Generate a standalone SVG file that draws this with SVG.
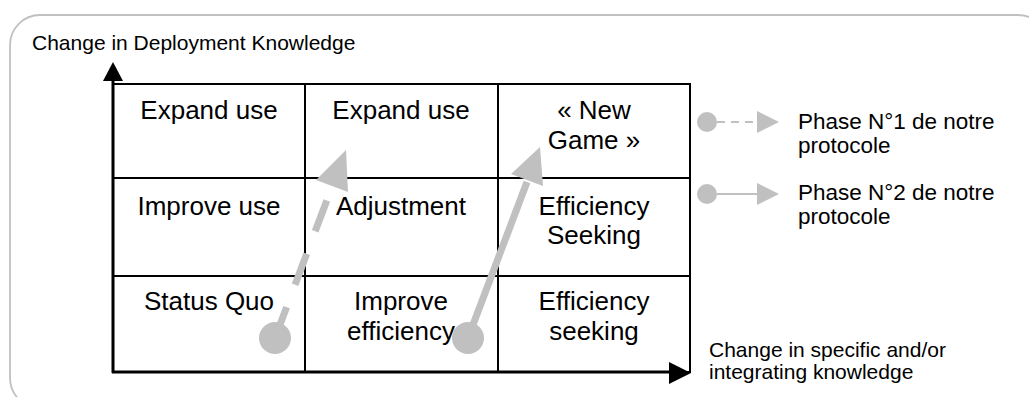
<svg xmlns="http://www.w3.org/2000/svg" width="1029" height="397" viewBox="0 0 1029 397">
<style>
text{font-family:"Liberation Sans",Arial,sans-serif;fill:#000}
.cell{font-size:26px;text-anchor:middle}
.lab{font-size:21px}
.leg{font-size:22.5px}
.grid{stroke:#000;stroke-width:2;fill:none}
.axis{stroke:#000;stroke-width:3;fill:none}
.g{fill:#c0c0c0}
</style>
<rect x="10" y="15" width="1038" height="393" rx="30" ry="30" fill="#fff" stroke="#c0c0c0" stroke-width="1.8"/>
<g id="grid">
<rect class="grid" x="113" y="84" width="577" height="288"/>
<line class="grid" x1="305" y1="84" x2="305" y2="372"/>
<line class="grid" x1="498" y1="84" x2="498" y2="372"/>
<line class="grid" x1="113" y1="178" x2="690" y2="178"/>
<line class="grid" x1="113" y1="276" x2="690" y2="276"/>
</g>
<g id="axes">
<line class="axis" x1="113" y1="373" x2="113" y2="78"/>
<polygon points="113,62 103,81 123,81" fill="#000"/>
<line class="axis" x1="112" y1="372" x2="672" y2="372"/>
<polygon points="691,373 669,362 669,384" fill="#000"/>
</g>
<g id="cells">
<text class="cell" x="209" y="119">Expand use</text>
<text class="cell" x="401" y="119">Expand use</text>
<text class="cell" x="594" y="119">« New</text>
<text class="cell" x="594" y="149">Game »</text>
<text class="cell" x="209" y="215">Improve use</text>
<text class="cell" x="401" y="215">Adjustment</text>
<text class="cell" x="594" y="215">Efficiency</text>
<text class="cell" x="594" y="244">Seeking</text>
<text class="cell" x="209" y="310">Status Quo</text>
<text class="cell" x="401" y="310">Improve</text>
<text class="cell" x="401" y="340">efficiency</text>
<text class="cell" x="594" y="310">Efficiency</text>
<text class="cell" x="594" y="340">seeking</text>
</g>
<g id="labels">
<text class="lab" x="32" y="50">Change in Deployment Knowledge</text>
<text class="lab" x="709" y="357">Change in specific and/or</text>
<text class="lab" x="709" y="379">integrating knowledge</text>
</g>
<g id="connectors">
<line x1="275" y1="338" x2="333" y2="184" stroke="#c0c0c0" stroke-width="7" stroke-dasharray="33 24"/>
<circle class="g" cx="275" cy="338" r="16"/>
<polygon class="g" points="346,150 316,180 348,192"/>
<line x1="468" y1="338" x2="527" y2="182" stroke="#c0c0c0" stroke-width="7"/>
<circle class="g" cx="468" cy="338" r="16"/>
<polygon class="g" points="540,147 511,174 543,186"/>
</g>
<g id="legend1">
<circle class="g" cx="707" cy="122" r="10"/>
<line x1="717" y1="122" x2="758" y2="122" stroke="#c0c0c0" stroke-width="2" stroke-dasharray="8 6"/>
<polygon class="g" points="757,111 757,133 779,122"/>
<text class="leg" x="798" y="129">Phase N°1 de notre</text>
<text class="leg" x="798" y="153">protocole</text>
</g>
<g id="legend2">
<circle class="g" cx="707" cy="194" r="10"/>
<line x1="717" y1="194" x2="758" y2="194" stroke="#c0c0c0" stroke-width="2"/>
<polygon class="g" points="757,183 757,205 779,194"/>
<text class="leg" x="798" y="200">Phase N°2 de notre</text>
<text class="leg" x="798" y="224">protocole</text>
</g>
</svg>
